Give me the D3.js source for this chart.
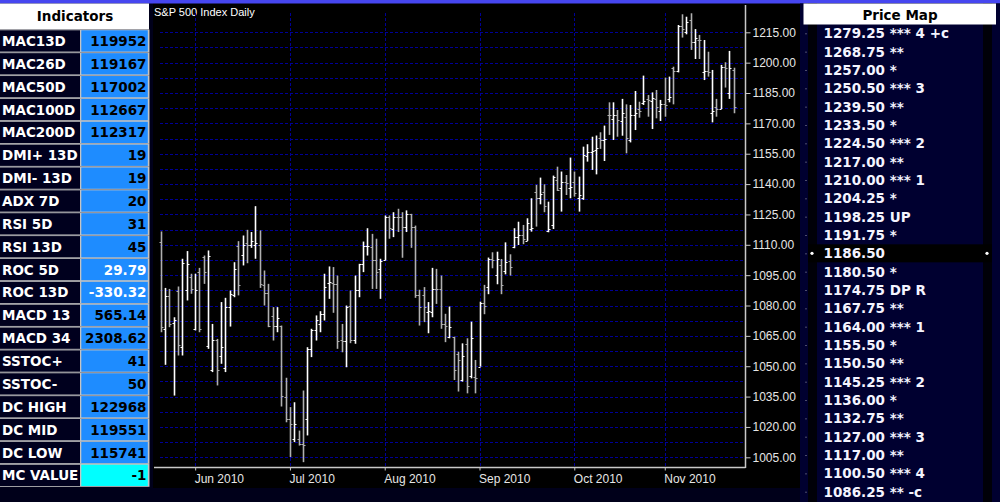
<!DOCTYPE html>
<html><head><meta charset="utf-8">
<script src="https://cdn.jsdelivr.net/npm/d3@7"></script>
<style>body{margin:0;background:#00001a;overflow:hidden}svg{display:block}</style>
</head><body>
<svg id="c" width="1000" height="502"></svg>
<script>
// ---------- DATA ----------
const indicatorNames = ["MAC13D","MAC26D","MAC50D","MAC100D","MAC200D","DMI+ 13D","DMI- 13D","ADX 7D","RSI 5D","RSI 13D","ROC 5D","ROC 13D","MACD 13","MACD 34","SSTOC+","SSTOC-","DC HIGH","DC MID","DC LOW","MC VALUE"];
const indicatorValues = ["119952","119167","117002","112667","112317","19","19","20","31","45","29.79","-330.32","565.14","2308.62","41","50","122968","119551","115741","-1"];

const priceLevels = ["1279.25","1268.75","1257.00","1250.50","1239.50","1233.50","1224.50","1217.00","1210.00","1204.25","1198.25","1191.75","1186.50","1180.50","1174.75","1167.75","1164.00","1155.50","1150.50","1145.25","1136.00","1132.75","1127.00","1117.00","1100.50","1086.25"];
const priceNotes = ["*** 4 +c","**","*","*** 3","**","*","*** 2","**","*** 1","*","UP","*","","*","DP R","**","*** 1","*","**","*** 2","*","**","*** 3","**","*** 4","** -c"];
const currentPrice = "1186.50";

const barOpen  = [1111.6,1068.5,1084.6,1071.2,1087.4,1059.7,1087.8,1094.0,1068.6,1096.6,1104.0,1060.0,1048.0,1063.0,1055.3,1049.0,1079.2,1085.0,1109.2,1105.0,1111.0,1110.0,1110.0,1110.0,1090.0,1086.0,1075.0,1070.0,1070.0,1035.0,1024.0,1014.0,1014.0,1011.5,1024.0,1058.6,1067.7,1071.0,1076.0,1091.0,1091.0,1090.5,1063.0,1062.7,1080.0,1063.0,1087.8,1100.6,1109.2,1109.0,1102.3,1098.0,1102.3,1123.7,1118.0,1123.7,1123.5,1118.7,1125.3,1119.0,1085.0,1085.0,1077.0,1077.0,1088.2,1088.0,1071.0,1064.6,1064.6,1056.0,1043.0,1061.0,1045.0,1044.5,1049.8,1081.0,1089.3,1103.0,1095.0,1100.0,1097.0,1102.0,1109.0,1114.0,1115.0,1112.0,1118.0,1136.3,1133.0,1136.0,1117.0,1120.0,1142.0,1138.0,1141.0,1138.0,1141.0,1133.0,1133.0,1154.0,1156.0,1157.0,1162.6,1162.0,1174.2,1172.0,1174.0,1171.0,1173.0,1162.0,1174.0,1177.0,1180.0,1182.0,1181.0,1182.0,1176.0,1179.5,1182.0,1197.2,1196.0,1218.0,1215.0,1221.0,1210.4,1211.2,1195.2,1196.0,1175.0,1178.0,1177.1,1198.0,1185.0,1196.4];
const barHigh  = [1116.6,1088.7,1088.2,1074.2,1089.4,1103.1,1106.9,1095.7,1095.7,1098.6,1104.7,1107.2,1070.9,1063.5,1081.7,1083.8,1087.4,1101.4,1111.8,1114.6,1117.4,1116.3,1129.1,1117.1,1097.3,1090.7,1079.2,1079.2,1070.1,1044.3,1029.8,1032.2,1018.2,1038.0,1059.4,1068.5,1075.1,1077.2,1095.7,1099.3,1099.0,1094.8,1070.9,1080.0,1087.4,1094.8,1100.6,1111.6,1118.2,1115.4,1113.0,1103.1,1124.5,1124.5,1126.1,1127.8,1126.1,1127.0,1125.3,1119.5,1087.8,1089.1,1081.7,1098.6,1098.1,1094.8,1075.9,1079.5,1064.6,1057.2,1061.3,1063.8,1072.0,1053.1,1081.9,1090.2,1103.7,1106.3,1106.6,1103.0,1111.2,1105.3,1118.2,1121.4,1119.8,1123.1,1133.0,1139.6,1143.2,1139.9,1131.3,1144.2,1148.6,1146.2,1144.5,1153.1,1146.2,1143.7,1158.5,1159.7,1163.4,1164.0,1165.6,1168.9,1180.4,1180.4,1176.6,1182.1,1179.4,1179.1,1186.0,1180.7,1193.6,1184.0,1185.3,1186.5,1181.6,1192.6,1193.1,1198.0,1218.6,1223.9,1222.7,1224.4,1216.6,1213.7,1211.2,1205.4,1196.4,1182.1,1198.9,1200.2,1205.8,1197.5];
const barLow   = [1066.8,1050.7,1069.3,1035.5,1055.3,1055.3,1082.5,1085.8,1067.7,1066.8,1090.7,1058.6,1047.1,1040.5,1051.2,1047.1,1069.6,1084.1,1085.0,1099.8,1100.9,1108.5,1103.1,1088.7,1080.0,1069.3,1062.7,1066.8,1030.1,1022.3,1005.1,1012.5,1010.8,1002.6,1015.8,1054.5,1062.7,1066.8,1072.6,1083.3,1076.4,1058.6,1056.9,1049.5,1061.4,1061.1,1084.1,1096.5,1104.7,1088.2,1088.2,1083.3,1102.3,1113.0,1113.8,1116.3,1103.6,1116.3,1108.5,1083.8,1070.1,1071.8,1066.3,1074.2,1080.8,1068.5,1061.9,1063.8,1043.2,1037.5,1042.4,1036.6,1044.0,1036.6,1049.8,1075.7,1085.6,1098.4,1090.5,1085.6,1095.4,1094.8,1108.3,1109.9,1110.3,1111.9,1116.5,1119.0,1130.0,1126.1,1116.2,1117.8,1136.6,1126.4,1134.6,1133.0,1133.8,1126.4,1132.2,1151.1,1147.0,1144.8,1157.4,1151.4,1164.3,1161.8,1163.4,1163.9,1155.2,1160.6,1166.7,1172.8,1179.1,1173.3,1167.2,1172.5,1171.2,1173.3,1180.4,1179.4,1195.2,1212.4,1214.0,1206.3,1201.8,1201.8,1191.4,1193.1,1170.5,1173.3,1177.1,1187.7,1182.1,1175.0];
const barClose = [1069.3,1084.5,1070.9,1072.6,1060.7,1100.9,1100.6,1088.4,1087.8,1068.5,1096.6,1104.6,1063.0,1047.9,1059.7,1079.2,1085.8,1098.0,1090.0,1110.0,1110.0,1112.0,1111.0,1090.7,1086.0,1070.0,1070.0,1074.0,1035.2,1024.0,1021.5,1021.5,1011.5,1011.0,1058.6,1067.7,1072.6,1075.9,1089.1,1091.5,1090.5,1062.7,1062.7,1079.5,1063.0,1087.8,1100.6,1109.2,1109.5,1102.3,1096.5,1102.0,1123.7,1118.2,1123.7,1123.5,1118.7,1125.3,1119.0,1085.0,1079.2,1079.2,1077.2,1088.2,1088.0,1071.0,1070.0,1069.6,1048.2,1053.0,1055.0,1040.0,1063.8,1044.0,1081.1,1080.0,1103.0,1102.5,1103.0,1090.0,1101.7,1099.0,1114.0,1115.0,1113.0,1121.0,1118.5,1133.0,1135.0,1129.0,1118.0,1143.7,1137.1,1141.2,1140.4,1138.5,1135.5,1134.6,1154.4,1156.0,1156.4,1158.0,1162.0,1162.5,1174.0,1174.0,1171.7,1175.0,1163.0,1174.0,1175.0,1176.0,1181.0,1181.5,1182.4,1178.3,1179.4,1179.0,1183.2,1196.0,1218.3,1216.6,1220.0,1210.0,1212.0,1211.0,1196.0,1195.6,1176.1,1177.0,1198.0,1197.5,1197.5,1178.3];

const monthLabels = ["Jun 2010","Jul 2010","Aug 2010","Sep 2010","Oct 2010","Nov 2010"];
const monthStartIndex = [8,30,52,74,96,117];
const yTickValues = [1005,1020,1035,1050,1065,1080,1095,1110,1125,1140,1155,1170,1185,1200,1215];
const yGridValues = d3.range(1005, 1215.01, 7.5);
const chartTitle = "S&P 500 Index Daily";

// ---------- DRAW ----------
const svg = d3.select("#c");
const F = "'DejaVu Sans', Verdana, sans-serif";
const A = "'Liberation Sans', Arial, sans-serif";

svg.append("rect").attr("width",1000).attr("height",502).attr("fill","#00001a");
svg.append("rect").attr("x",153).attr("y",3).attr("width",647).attr("height",485).attr("fill","#000");
svg.append("rect").attr("width",1000).attr("height",3.5).attr("fill","#4646f0");

// ---- Left indicator panel ----
const rowY = d3.scaleLinear().domain([0, 20]).range([29.5, 486.8]);
const left = svg.append("g");
left.append("rect").attr("x",0).attr("y",3.5).attr("width",149).attr("height",26).attr("fill","#fff");
left.append("text").attr("x",75).attr("y",21).attr("text-anchor","middle")
  .attr("font-family",F).attr("font-weight","bold").attr("font-size",13.5).attr("fill","#000").text("Indicators");
indicatorNames.forEach((n,i)=>{
  const y0 = rowY(i), h = rowY(i+1)-rowY(i);
  left.append("rect").attr("x",0).attr("y",y0).attr("width",149.5).attr("height",h).attr("fill","#c4c4c4");
  left.append("rect").attr("x",0).attr("y",y0+0.8).attr("width",80).attr("height",h-1.6).attr("fill","#00001e");
  left.append("rect").attr("x",81.3).attr("y",y0+0.8).attr("width",66.5).attr("height",h-1.6)
    .attr("fill", n==="MC VALUE" ? "#00ffff" : "#1e8cff");
  left.append("text").attr("x",2).attr("y",y0+h/2+5).attr("font-family",F).attr("font-weight","bold")
    .attr("font-size",13.5).attr("fill","#fff").text(n);
  const white = n.startsWith("ROC");
  left.append("text").attr("x",146.5).attr("y",y0+h/2+5).attr("text-anchor","end").attr("font-family",F)
    .attr("font-weight","bold").attr("font-size",13.5).attr("fill", white ? "#fff" : "#000").text(indicatorValues[i]);
});

// ---- Chart ----
const x = d3.scaleLinear().domain([0, barOpen.length-1]).range([160.7, 733.7]);
const y = d3.scaleLinear().domain([1005, 1215]).range([457.3, 32.3]);
const axisX = 745.5, axisY = 467.5;
const chart = svg.append("g");

chart.append("text").attr("x",154).attr("y",16).attr("font-family",A).attr("font-size",11).attr("fill","#fff").text(chartTitle);

// grid
chart.selectAll(".hg").data(yGridValues).join("line")
  .attr("x1",160).attr("x2",axisX).attr("y1",d=>Math.round(y(d))+0.5).attr("y2",d=>Math.round(y(d))+0.5)
  .attr("stroke","#000096").attr("stroke-width",1).attr("stroke-dasharray","3,2");
chart.selectAll(".vg").data(monthStartIndex).join("line")
  .attr("x1",d=>Math.round(x(d))+0.5).attr("x2",d=>Math.round(x(d))+0.5).attr("y1",13).attr("y2",axisY)
  .attr("stroke","#000096").attr("stroke-width",1).attr("stroke-dasharray","3,2");

// axes
const yAxis = d3.axisRight(y).tickValues(yTickValues).tickSize(5).tickPadding(2).tickFormat(d3.format(".2f"));
const gy = chart.append("g").attr("transform",`translate(${axisX},0)`).call(yAxis);
gy.select(".domain").remove();
gy.selectAll("line").attr("stroke","#c8c8c8");
gy.selectAll("text").attr("font-family",A).attr("font-size",12).attr("fill","#e6e6e6");
chart.append("line").attr("x1",axisX).attr("x2",axisX).attr("y1",5).attr("y2",axisY+0.5).attr("stroke","#c8c8c8").attr("stroke-width",1.5);

const xAxis = d3.axisBottom(x).tickValues(monthStartIndex).tickSize(3).tickPadding(4)
  .tickFormat((d,i)=>monthLabels[i]);
const gx = chart.append("g").attr("transform",`translate(0,${axisY})`).call(xAxis);
gx.select(".domain").remove();
gx.selectAll("line").attr("stroke","#c8c8c8");
gx.selectAll("text").attr("font-family",A).attr("font-size",12).attr("fill","#e6e6e6")
  .attr("text-anchor","start").attr("dx",-1);
chart.append("line").attr("x1",154).attr("x2",axisX).attr("y1",axisY).attr("y2",axisY).attr("stroke","#c8c8c8").attr("stroke-width",1.5);

// OHLC bars
const bars = chart.append("g");
barOpen.forEach((o,i)=>{
  const c = barClose[i], col = c >= o ? "#ffffff" : "#b0b0b0";
  const cx = Math.round(x(i)) + 0.5;
  const g = bars.append("g").attr("stroke",col);
  g.append("line").attr("x1",cx).attr("x2",cx).attr("y1",y(barHigh[i])).attr("y2",y(barLow[i])).attr("stroke-width",1.6);
  g.append("line").attr("x1",cx-2).attr("x2",cx).attr("y1",Math.round(y(o))+0.5).attr("y2",Math.round(y(o))+0.5).attr("stroke-width",1);
  g.append("line").attr("x1",cx).attr("x2",cx+2).attr("y1",Math.round(y(c))+0.5).attr("y2",Math.round(y(c))+0.5).attr("stroke-width",1);
});

// ---- Right price map panel ----
const right = svg.append("g");
right.append("rect").attr("x",800).attr("y",3.5).attr("width",200).attr("height",498.5).attr("fill","#000030");
right.append("rect").attr("x",808).attr("y",3.5).attr("width",9).attr("height",498.5).attr("fill","#000008");
right.append("rect").attr("x",983).attr("y",3.5).attr("width",9).attr("height",498.5).attr("fill","#000008");
right.append("rect").attr("x",803.5).attr("y",3.5).attr("width",192.5).attr("height",21).attr("fill","#fff");
right.append("text").attr("x",900).attr("y",19.5).attr("text-anchor","middle").attr("font-family",F)
  .attr("font-weight","bold").attr("font-size",13.5).attr("fill","#000").text("Price Map");
const pmY = d3.scaleLinear().domain([0, priceLevels.length-1]).range([33.3, 491.7]);
priceLevels.forEach((p,i)=>{
  const cy = pmY(i), cur = p === currentPrice;
  if (cur) {
    right.append("rect").attr("x",808).attr("y",cy-9).attr("width",184).attr("height",18).attr("fill","#000");
    right.append("circle").attr("cx",812).attr("cy",cy).attr("r",1.6).attr("fill","#fff");
    right.append("circle").attr("cx",987).attr("cy",cy).attr("r",1.6).attr("fill","#fff");
  }
  right.append("rect").attr("x",805.5).attr("y",cy).attr("width",1).attr("height",1).attr("fill","#9a9aaa");
  right.append("text").attr("x",823.5).attr("y",cy+5).attr("font-family",F).attr("font-weight","bold")
    .attr("font-size",13.5).attr("fill","#f4f4ff").text(priceNotes[i] ? p + " " + priceNotes[i] : p);
});
</script>
</body></html>
